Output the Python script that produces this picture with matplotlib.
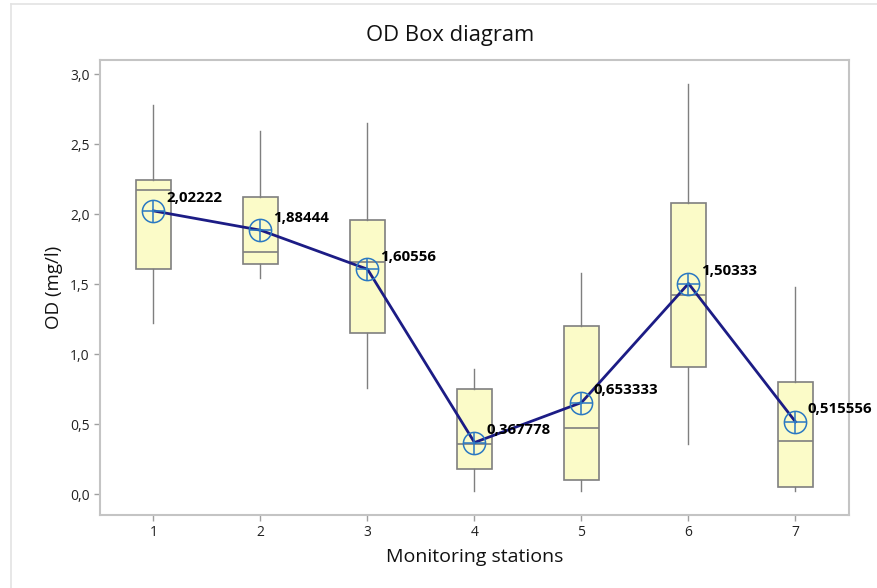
import matplotlib
matplotlib.use('Agg')
import matplotlib.pyplot as plt
import matplotlib.ticker as ticker
from matplotlib.lines import Line2D

plt.rcParams['font.family'] = ['Open Sans', 'DejaVu Sans']

# Dados (OD em mg/l por estação)
stations = [1, 2, 3, 4, 5, 6, 7]
whislo = [1.22, 1.54, 0.76, 0.02, 0.02, 0.36, 0.02]
q1 = [1.61, 1.64, 1.15, 0.18, 0.10, 0.91, 0.05]
med = [2.17, 1.73, 1.66, 0.36, 0.47, 1.42, 0.38]
q3 = [2.24, 2.12, 1.96, 0.75, 1.20, 2.08, 0.80]
whishi = [2.78, 2.59, 2.65, 0.89, 1.58, 2.93, 1.48]
means = [2.02222, 1.88444, 1.60556, 0.367778, 0.653333, 1.50333, 0.515556]
mean_labels = ['2,02222', '1,88444', '1,60556', '0,367778', '0,653333', '1,50333', '0,515556']
yticks = [0.0, 0.5, 1.0, 1.5, 2.0, 2.5, 3.0]

fig = plt.figure(figsize=(8.78, 5.88), dpi=100)
ax = fig.add_axes([100 / 878, 1 - 515 / 588, 749 / 878, 455 / 588])

# moldura externa (cinza claro)
fig.add_artist(Line2D([11 / 878, 11 / 878], [0, 1 - 4 / 588], color='#e3e3e3', lw=1.2))
fig.add_artist(Line2D([11 / 878, 1], [1 - 4 / 588, 1 - 4 / 588], color='#e3e3e3', lw=1.2))

stats = []
for i in range(len(stations)):
    stats.append({'whislo': whislo[i], 'q1': q1[i], 'med': med[i],
                  'q3': q3[i], 'whishi': whishi[i], 'fliers': []})

ax.bxp(stats, positions=stations, widths=0.33, patch_artist=True,
       showcaps=False, showfliers=False,
       boxprops=dict(facecolor='#fbfbc8', edgecolor='#7f7f7f', linewidth=1.2),
       medianprops=dict(color='#7f7f7f', linewidth=1.2),
       whiskerprops=dict(color='#7f7f7f', linewidth=1.0))

# linha das médias
ax.plot(stations, means, color='#1c1c85', linewidth=2, zorder=4)
ax.plot(stations, means, linestyle='none', marker='o', markersize=16,
        markerfacecolor='none', markeredgecolor='#2a78c2', markeredgewidth=1.1, zorder=5)
ax.plot(stations, means, linestyle='none', marker='+', markersize=16,
        markeredgecolor='#2a78c2', markeredgewidth=1.1, zorder=5)

for x, y, lab in zip(stations, means, mean_labels):
    ax.annotate(lab, (x, y), xytext=(9, 4), textcoords='offset points',
                ha='left', va='bottom', fontsize=10.8, fontweight='bold', color='black', zorder=6)

ax.set_xlim(0.5, 7.5)
ax.set_ylim(-0.15, 3.1)
ax.set_xticks(stations)
ax.set_yticks(yticks)
ax.yaxis.set_major_formatter(ticker.FuncFormatter(lambda v, p: f'{v:.1f}'.replace('.', ',')))

for s in ax.spines.values():
    s.set_color('#c4c4c4')
    s.set_linewidth(1.5)
ax.tick_params(axis='both', length=4, width=1, color='#a0a0a0', labelsize=10, labelcolor='#222222')

ax.set_xlabel('Monitoring stations', fontsize=14, color='#111111')
ax.set_ylabel('OD (mg/l)', fontsize=13.5, color='#111111')
ax.xaxis.set_label_coords(0.5, -0.072)
ax.yaxis.set_label_coords(-0.05, 0.5)

fig.text(450 / 878, 1 - 35 / 588, 'OD Box diagram', ha='center', va='center',
         fontsize=15.8, color='#111111')

fig.savefig('out.png', dpi=100)
plt.close()
